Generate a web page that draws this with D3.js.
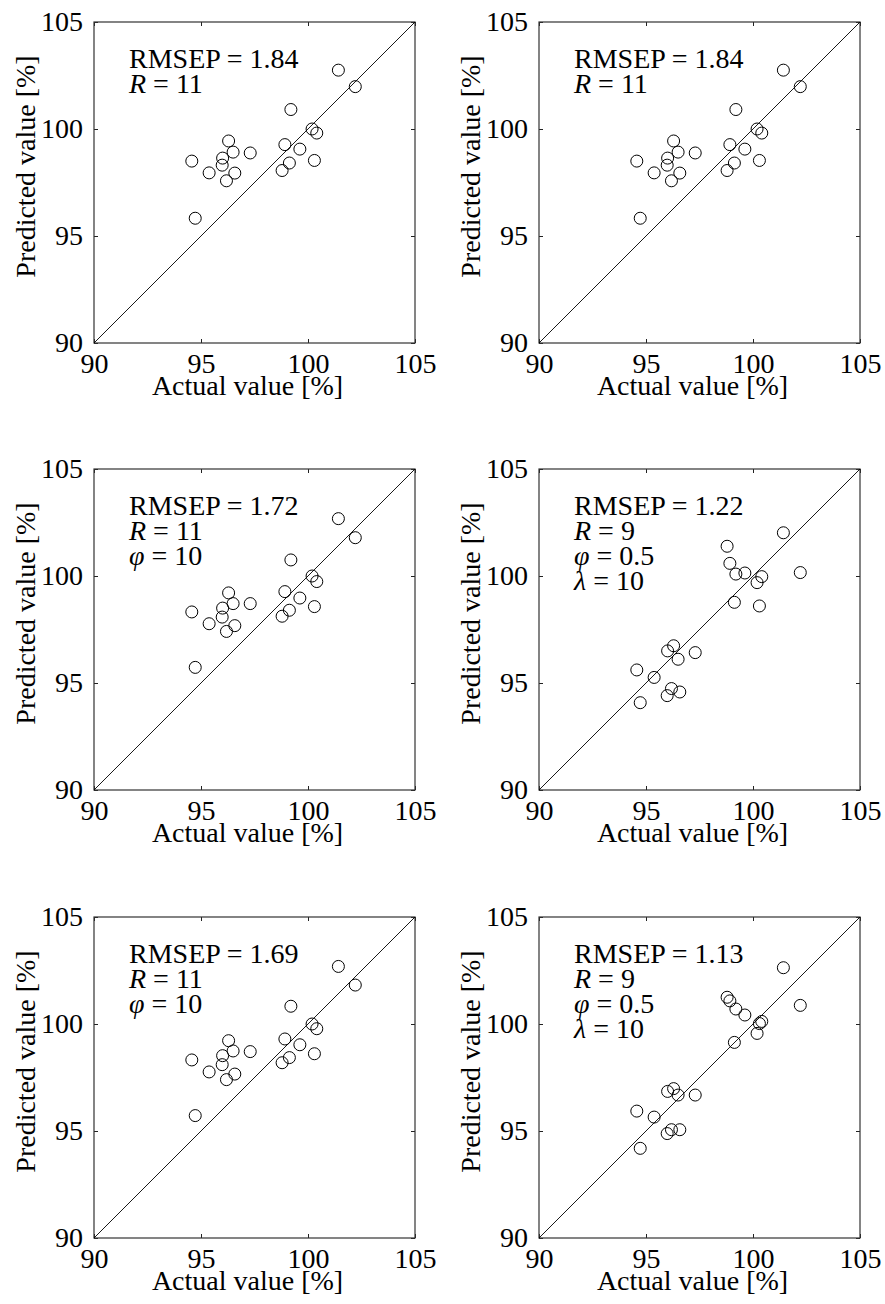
<!DOCTYPE html>
<html><head><meta charset="UTF-8">
  <title>Predicted vs actual</title>
  <script src="https://d3js.org/d3.v7.min.js"></script>
  <style>
    body { margin: 0; background: #fff; }
    text { font-family: "Liberation Serif", "Times New Roman", serif; fill: #000; }
  </style>
</head>
<body>
  <svg width="885" height="1304"></svg>
  <script>
    // actual values (same for every panel)
    const actual = [101.42, 102.21, 99.20, 100.19, 100.41, 98.92, 99.62, 99.13, 98.79, 100.30,
                    96.29, 96.50, 97.30, 96.01, 95.99, 94.57, 95.38, 96.58, 96.19, 94.73];

    // predicted values, one array per panel
    const predA = [102.75, 101.98, 100.91, 100.00, 99.81, 99.27, 99.06, 98.41, 98.06, 98.53,
                   99.44, 98.92, 98.88, 98.64, 98.31, 98.50, 97.95, 97.94, 97.58, 95.83];
    const predB = predA;
    const predC = [102.68, 101.79, 100.75, 100.00, 99.74, 99.27, 98.97, 98.40, 98.12, 98.57,
                   99.21, 98.71, 98.71, 98.50, 98.08, 98.32, 97.77, 97.68, 97.41, 95.73];
    const predD = [102.02, 100.16, 100.09, 99.69, 99.97, 100.59, 100.14, 98.77, 101.39, 98.60,
                   96.74, 96.11, 96.42, 96.50, 94.41, 95.61, 95.26, 94.58, 94.74, 94.08];
    const predE = [102.69, 101.82, 100.83, 100.00, 99.78, 99.30, 99.03, 98.43, 98.19, 98.61,
                   99.22, 98.74, 98.71, 98.52, 98.10, 98.32, 97.76, 97.66, 97.40, 95.72];
    const predF = [102.63, 100.87, 100.70, 99.56, 100.12, 101.08, 100.42, 99.14, 101.25, 100.02,
                   96.98, 96.68, 96.68, 96.85, 94.88, 95.93, 95.65, 95.06, 95.06, 94.19];

    // annotation lines: [symbol, value, italic?]
    const statsA = [["RMSEP", "1.84", false], ["R", "11", true]];
    const statsB = statsA;
    const statsC = [["RMSEP", "1.72", false], ["R", "11", true], ["φ", "10", true]];
    const statsD = [["RMSEP", "1.22", false], ["R", "9", true], ["φ", "0.5", true], ["λ", "10", true]];
    const statsE = [["RMSEP", "1.69", false], ["R", "11", true], ["φ", "10", true]];
    const statsF = [["RMSEP", "1.13", false], ["R", "9", true], ["φ", "0.5", true], ["λ", "10", true]];

    const ticks = [90, 95, 100, 105];
    const domain = [90, 105];

    const panels = [
      {pred: predA, stats: statsA, left: 94,  top: 22},
      {pred: predB, stats: statsB, left: 539, top: 22},
      {pred: predC, stats: statsC, left: 94,  top: 469},
      {pred: predD, stats: statsD, left: 539, top: 469},
      {pred: predE, stats: statsE, left: 94,  top: 917},
      {pred: predF, stats: statsF, left: 539, top: 917}
    ];

    const size = 321;
    const fs = 28;
    const svg = d3.select("svg");

    panels.forEach(p => {
      const x = d3.scaleLinear().domain(domain).range([p.left, p.left + size]);
      const y = d3.scaleLinear().domain(domain).range([p.top + size, p.top]);
      const g = svg.append("g");

      // inward ticks on all four sides
      g.append("g").attr("transform", `translate(0,${p.top + size})`)
        .call(d3.axisBottom(x).tickValues(ticks).tickSize(-4).tickPadding(10));
      g.append("g").attr("transform", `translate(${p.left},0)`)
        .call(d3.axisLeft(y).tickValues(ticks).tickSize(-4).tickPadding(11));
      g.append("g").attr("transform", `translate(0,${p.top})`)
        .call(d3.axisTop(x).tickValues(ticks).tickSize(-4).tickFormat(""));
      g.append("g").attr("transform", `translate(${p.left + size},0)`)
        .call(d3.axisRight(y).tickValues(ticks).tickSize(-4).tickFormat(""));
      g.selectAll(".domain").remove();
      g.selectAll(".tick line").attr("stroke", "#222").attr("stroke-width", 1);
      g.selectAll(".tick text").attr("font-size", fs).attr("fill", "#000");

      // box
      g.append("rect")
        .attr("x", p.left).attr("y", p.top)
        .attr("width", size).attr("height", size)
        .attr("fill", "none").attr("stroke", "#333").attr("stroke-width", 1.2);

      // 1:1 line
      g.append("line")
        .attr("x1", x(90)).attr("y1", y(90))
        .attr("x2", x(105)).attr("y2", y(105))
        .attr("stroke", "#000").attr("stroke-width", 0.9);

      // points
      g.selectAll("circle")
        .data(actual.map((a, i) => [a, p.pred[i]]))
        .join("circle")
          .attr("cx", d => x(d[0]))
          .attr("cy", d => y(d[1]))
          .attr("r", 6)
          .attr("fill", "none")
          .attr("stroke", "#000")
          .attr("stroke-width", 1);

      // annotation
      p.stats.forEach((s, i) => {
        const t = g.append("text")
          .attr("x", p.left + 35)
          .attr("y", p.top + 46 + i * 25)
          .attr("font-size", fs);
        t.append("tspan").attr("font-style", s[2] ? "italic" : "normal").text(s[0]);
        t.append("tspan").text(" = " + s[1]);
      });

      // axis titles
      g.append("text")
        .attr("x", p.left + size / 2 - 7)
        .attr("y", p.top + size + 52)
        .attr("text-anchor", "middle")
        .attr("font-size", fs)
        .text("Actual value [%]");
      g.append("text")
        .attr("transform", `translate(${p.left - 59},${p.top + size / 2 - 16}) rotate(-90)`)
        .attr("text-anchor", "middle")
        .attr("font-size", fs)
        .text("Predicted value [%]");
    });
  </script>
</body></html>
